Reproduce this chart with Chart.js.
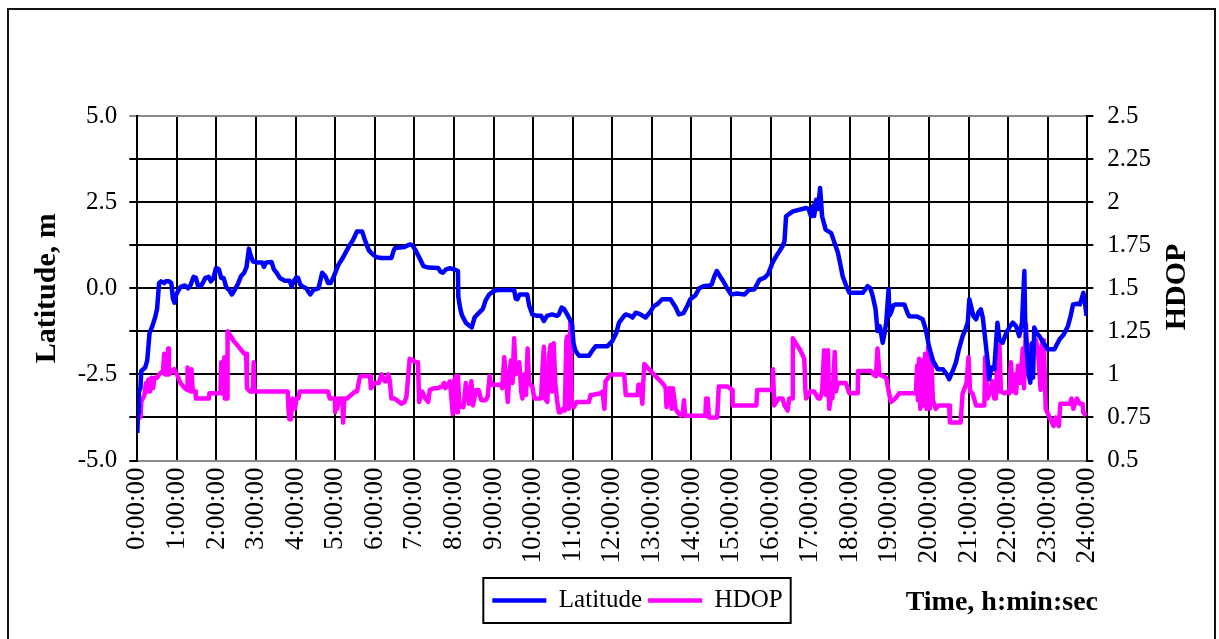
<!DOCTYPE html>
<html>
<head>
<meta charset="utf-8">
<script src="https://cdn.jsdelivr.net/npm/chart.js@4.4.1/dist/chart.umd.min.js"></script>
<style>
html,body{margin:0;padding:0;background:#fff;}
canvas{display:block;}
</style>
</head>
<body>
<canvas id="c" width="1219" height="639"></canvas>
<script>
// ---- data (time in hours) ----
const latTime = [0.00,0.02,0.04,0.08,0.10,0.20,0.25,0.28,0.31,0.38,0.45,0.50,0.55,0.60,0.68,0.72,0.80,0.86,0.90,0.94,0.98,1.03,1.10,1.20,1.28,1.35,1.42,1.48,1.54,1.62,1.72,1.80,1.86,1.92,1.99,2.06,2.12,2.18,2.25,2.32,2.39,2.46,2.54,2.62,2.70,2.76,2.82,2.85,2.92,3.00,3.15,3.20,3.25,3.39,3.45,3.52,3.60,3.73,3.85,3.90,3.95,4.02,4.06,4.12,4.19,4.27,4.32,4.37,4.45,4.58,4.62,4.67,4.75,4.82,4.88,4.95,5.08,5.20,5.34,5.45,5.55,5.68,5.75,5.85,5.95,6.05,6.17,6.42,6.48,6.51,6.75,6.88,6.95,7.03,7.12,7.23,7.35,7.60,7.66,7.72,7.80,7.90,8.00,8.10,8.11,8.16,8.20,8.30,8.40,8.45,8.52,8.60,8.73,8.80,8.89,9.00,9.10,9.52,9.56,9.60,9.66,9.85,9.90,9.98,10.10,10.20,10.27,10.35,10.48,10.60,10.65,10.72,10.78,10.86,10.95,10.98,11.02,11.07,11.16,11.41,11.50,11.58,11.88,12.00,12.10,12.17,12.30,12.34,12.45,12.51,12.59,12.70,12.84,12.95,13.05,13.15,13.26,13.47,13.60,13.68,13.80,13.90,13.97,14.10,14.20,14.30,14.45,14.51,14.58,14.64,14.72,14.80,14.90,15.00,15.15,15.34,15.45,15.59,15.72,15.84,15.93,16.00,16.05,16.15,16.22,16.30,16.35,16.39,16.56,16.90,16.96,17.02,17.08,17.10,17.15,17.20,17.25,17.30,17.39,17.53,17.62,17.70,17.76,17.82,17.90,17.99,18.33,18.45,18.52,18.58,18.65,18.70,18.76,18.83,18.88,18.92,18.98,19.00,19.04,19.10,19.17,19.38,19.45,19.50,19.70,19.84,19.92,20.00,20.10,20.22,20.35,20.45,20.51,20.60,20.68,20.75,20.85,20.92,20.98,21.02,21.08,21.12,21.19,21.25,21.31,21.36,21.44,21.50,21.52,21.58,21.65,21.70,21.73,21.78,21.86,21.95,22.05,22.12,22.20,22.28,22.35,22.41,22.43,22.47,22.52,22.56,22.60,22.63,22.66,22.72,22.79,22.90,23.00,23.17,23.30,23.40,23.51,23.58,23.64,23.75,23.81,23.86,23.90,23.95,23.98];
const latValue = [-4.2,-3.6,-3.0,-2.9,-2.4,-2.3,-2.1,-1.7,-1.3,-1.1,-0.85,-0.6,0.15,0.2,0.15,0.2,0.2,0.15,-0.3,-0.42,-0.2,-0.08,0.04,0.08,0.0,0.1,0.33,0.3,0.05,0.08,0.3,0.33,0.2,0.28,0.59,0.55,0.3,0.3,0.02,-0.05,-0.18,-0.05,0.12,0.35,0.45,0.62,1.15,1.0,0.78,0.75,0.75,0.62,0.75,0.76,0.55,0.45,0.3,0.22,0.22,0.05,0.2,0.32,0.3,0.1,0.04,0.0,-0.1,-0.18,-0.05,0.0,0.2,0.45,0.35,0.15,0.15,0.3,0.68,0.9,1.2,1.4,1.65,1.65,1.4,1.1,0.98,0.9,0.88,0.88,1.1,1.17,1.2,1.27,1.25,1.1,0.9,0.64,0.6,0.59,0.48,0.45,0.55,0.58,0.55,0.5,-0.25,-0.6,-0.78,-1.0,-1.1,-1.14,-0.85,-0.75,-0.6,-0.35,-0.18,-0.08,-0.05,-0.05,-0.3,-0.32,-0.18,-0.18,-0.5,-0.76,-0.8,-0.8,-0.95,-0.8,-0.76,-0.8,-0.76,-0.56,-0.6,-0.76,-0.95,-1.0,-1.6,-1.82,-1.96,-1.96,-1.8,-1.68,-1.68,-1.53,-1.3,-1.0,-0.8,-0.76,-0.8,-0.85,-0.71,-0.75,-0.85,-0.7,-0.52,-0.45,-0.32,-0.32,-0.55,-0.76,-0.72,-0.5,-0.32,-0.2,0.0,0.06,0.08,0.11,0.35,0.5,0.35,0.21,0.0,-0.18,-0.15,-0.18,-0.05,-0.03,0.25,0.3,0.4,0.6,0.75,0.95,1.07,1.22,1.36,2.09,2.23,2.33,2.3,2.09,2.4,2.1,2.57,2.3,2.91,2.09,1.7,1.6,1.3,1.03,0.7,0.35,0.1,-0.13,-0.13,0.06,0.0,-0.23,-0.6,-1.24,-1.1,-1.58,-1.3,-1.0,-0.03,-0.8,-0.71,-0.5,-0.47,-0.47,-0.7,-0.81,-0.82,-0.9,-1.2,-1.68,-2.1,-2.35,-2.35,-2.5,-2.64,-2.4,-2.16,-1.8,-1.39,-1.2,-1.0,-0.32,-0.6,-0.8,-0.9,-0.7,-0.61,-0.85,-1.68,-2.3,-2.64,-2.3,-2.35,-1.5,-1.0,-1.5,-1.58,-1.3,-1.1,-1.0,-1.1,-1.39,-1.0,0.5,-0.9,-1.8,-2.5,-2.74,-1.6,-2.6,-1.14,-1.3,-1.39,-1.6,-1.77,-1.77,-1.48,-1.35,-1.1,-0.8,-0.47,-0.45,-0.47,-0.3,-0.13,-0.5,-0.8];

const hdopTime = [0.00,0.08,0.10,0.18,0.22,0.25,0.28,0.32,0.36,0.40,0.43,0.50,0.55,0.65,0.68,0.70,0.76,0.78,0.80,0.93,1.00,1.09,1.20,1.26,1.27,1.29,1.36,1.37,1.40,1.47,1.48,1.81,1.82,2.10,2.12,2.14,2.19,2.20,2.21,2.27,2.28,2.45,2.56,2.70,2.75,2.77,2.85,2.92,2.94,2.96,3.80,3.82,3.84,3.86,3.88,3.92,3.98,4.02,4.07,4.10,4.82,4.86,4.99,5.00,5.02,5.05,5.10,5.18,5.20,5.23,5.30,5.40,5.50,5.55,5.60,5.63,5.88,5.90,6.00,6.10,6.17,6.25,6.30,6.34,6.38,6.42,6.50,6.67,6.75,6.80,6.88,7.05,7.09,7.12,7.20,7.28,7.35,7.39,7.50,7.60,7.70,7.75,7.78,7.90,7.97,8.00,8.05,8.08,8.10,8.14,8.20,8.24,8.30,8.38,8.44,8.48,8.56,8.62,8.69,8.80,8.85,8.90,8.94,9.19,9.22,9.27,9.36,9.40,9.44,9.48,9.52,9.56,9.60,9.65,9.70,9.73,9.78,9.82,9.86,9.90,9.98,10.03,10.06,10.15,10.20,10.24,10.27,10.30,10.36,10.40,10.44,10.48,10.52,10.56,10.61,10.65,10.69,10.75,10.80,10.84,10.86,10.90,10.94,10.98,11.03,11.10,11.20,11.41,11.45,11.49,11.70,11.75,11.80,11.83,11.96,12.30,12.34,12.64,12.66,12.70,12.76,12.78,12.81,12.93,13.05,13.18,13.30,13.35,13.37,13.40,13.45,13.50,13.53,13.60,13.65,13.73,13.78,13.81,13.84,13.89,14.35,14.37,14.41,14.44,14.65,14.69,14.90,15.03,15.04,15.64,15.66,16.04,16.06,16.09,16.20,16.30,16.35,16.43,16.47,16.54,16.56,16.64,16.75,16.85,16.88,16.90,17.00,17.10,17.20,17.25,17.30,17.35,17.40,17.45,17.48,17.52,17.56,17.62,17.65,17.70,17.90,17.99,18.20,18.21,18.53,18.60,18.66,18.70,18.75,18.83,18.92,19.00,19.04,19.15,19.25,19.67,19.70,19.72,19.75,19.78,19.82,19.86,19.90,19.94,19.98,20.02,20.06,20.10,20.17,20.25,20.51,20.53,20.80,20.85,20.95,21.00,21.04,21.10,21.19,21.40,21.42,21.48,21.55,21.60,21.65,21.69,21.72,21.75,21.78,21.82,21.90,22.00,22.03,22.07,22.12,22.15,22.20,22.25,22.30,22.37,22.40,22.45,22.50,22.53,22.60,22.70,22.75,22.82,22.86,22.90,22.95,23.05,23.15,23.20,23.28,23.32,23.57,23.60,23.65,23.70,23.74,23.80,23.88,23.90,23.97];
const hdopValue = [0.75,0.75,0.84,0.88,0.95,0.9,0.97,0.9,0.98,0.92,0.98,0.98,1.0,1.02,1.12,1.0,1.0,1.15,1.0,1.03,1.0,0.95,0.92,0.91,1.04,0.91,0.9,1.03,0.9,0.9,0.86,0.86,0.89,0.89,1.07,0.89,0.9,1.1,0.86,0.86,1.25,1.19,1.16,1.12,1.12,0.92,0.9,0.9,1.07,0.9,0.9,0.8,0.74,0.82,0.74,0.86,0.8,0.86,0.86,0.9,0.9,0.86,0.86,0.78,0.86,0.8,0.86,0.86,0.72,0.86,0.86,0.88,0.9,0.9,0.96,0.99,0.99,0.92,0.95,0.95,1.0,0.96,0.96,1.0,0.96,0.86,0.86,0.83,0.84,0.87,1.09,1.07,1.07,0.84,0.9,0.86,0.84,0.91,0.92,0.92,0.93,0.95,0.92,0.96,0.77,0.96,0.99,0.78,0.99,0.81,0.82,0.81,0.95,0.83,0.96,0.82,0.91,0.91,0.85,0.85,0.87,0.99,0.94,0.94,0.92,1.1,0.84,1.0,1.08,0.95,1.21,1.0,1.05,1.07,0.9,0.86,1.0,0.88,1.15,0.95,0.93,0.86,0.86,0.86,0.86,1.05,1.16,0.86,0.84,1.1,1.17,0.9,1.18,0.95,0.84,0.78,0.78,0.8,0.79,1.2,1.22,0.8,1.31,0.82,0.81,0.84,0.84,0.84,0.88,0.88,0.89,0.9,0.8,0.96,1.0,1.0,0.88,0.88,0.94,0.94,0.83,0.94,1.06,1.03,1.0,0.97,0.94,0.92,0.81,0.9,0.92,0.8,0.92,0.8,0.78,0.76,0.78,0.85,0.76,0.76,0.76,0.86,0.86,0.75,0.75,0.93,0.93,0.91,0.82,0.82,0.91,0.91,1.03,0.82,0.86,0.86,0.82,0.79,0.86,0.86,1.21,1.18,1.14,1.09,0.9,0.86,0.9,0.9,0.86,0.86,0.9,1.14,0.88,1.14,0.8,0.86,0.86,1.13,0.9,0.95,0.95,0.89,0.89,1.02,1.02,1.0,0.99,1.15,1.0,0.99,0.98,0.88,0.84,0.86,0.89,0.89,1.05,0.85,1.09,0.8,1.08,0.82,1.12,0.8,1.16,0.8,1.1,0.85,0.8,0.82,0.82,0.72,0.72,0.89,0.95,1.1,0.9,0.89,0.82,0.82,1.1,0.86,0.9,0.96,0.86,0.86,1.05,0.9,1.17,0.9,0.89,0.9,0.89,1.07,0.9,1.0,0.89,1.05,0.95,1.15,0.92,1.29,1.0,1.17,1.1,1.2,1.15,0.91,1.2,1.2,0.8,0.75,0.7,0.75,0.7,0.83,0.83,0.86,0.8,0.84,0.86,0.83,0.83,0.78,0.76];

const xTickLabels = ['0:00:00','1:00:00','2:00:00','3:00:00','4:00:00','5:00:00','6:00:00','7:00:00','8:00:00','9:00:00','10:00:00','11:00:00','12:00:00','13:00:00','14:00:00','15:00:00','16:00:00','17:00:00','18:00:00','19:00:00','20:00:00','21:00:00','22:00:00','23:00:00','24:00:00'];
const latTickLabels = ['-5.0','','-2.5','','0.0','','2.5','','5.0'];
const hdopTickLabels = ['0.5','0.75','1','1.25','1.5','1.75','2','2.25','2.5'];

const latLabel = 'Latitude';
const hdopLabel = 'HDOP';
const yTitle = 'Latitude, m';
const y1Title = 'HDOP';
const xTitle = 'Time, h:min:sec';

const SERIF = "'Liberation Serif', 'Times New Roman', serif";
Chart.defaults.font.family = SERIF;
Chart.defaults.color = '#000';

const decor = {
  id: 'decor',
  afterLayout(chart) {
    const lg = chart.legend;
    if (lg) { lg.left += 28; lg.right += 28; }
  },
  afterDraw(chart) {
    const ctx = chart.ctx;
    ctx.save();
    // legend frame
    const hb = chart.legend.legendHitBoxes;
    if (hb && hb.length) {
      const l = hb[0].left - 9;
      const last = hb[hb.length - 1];
      const r = last.left + last.width + 8;
      const t = hb[0].top - 10;
      ctx.strokeStyle = '#000';
      ctx.lineWidth = 2;
      ctx.strokeRect(l, t, r - l, 45);
    }
    // x-axis title
    ctx.fillStyle = '#000';
    ctx.font = "bold 28px " + SERIF;
    ctx.textAlign = 'right';
    ctx.textBaseline = 'middle';
    ctx.fillText(xTitle, 1098, 603);
    // right axis title (reads bottom to top)
    ctx.translate(1177, 287);
    ctx.rotate(-Math.PI / 2);
    ctx.font = "bold 30px " + SERIF;
    ctx.textAlign = 'center';
    ctx.fillText(y1Title, 0, 0);
    ctx.restore();
    // outer frame
    ctx.save();
    ctx.strokeStyle = '#111';
    ctx.lineWidth = 2;
    ctx.strokeRect(8, 9, 1207, 700);
    ctx.restore();
  }
};

new Chart(document.getElementById('c'), {
  type: 'line',
  data: {
    datasets: [
      { label: latLabel, data: latTime.map((t, i) => ({x: t, y: latValue[i]})), yAxisID: 'y',
        borderColor: '#0000FF', backgroundColor: '#0000FF', borderWidth: 4.5, pointRadius: 0,
        tension: 0, borderJoinStyle: 'round', fill: false },
      { label: hdopLabel, data: hdopTime.map((t, i) => ({x: t, y: hdopValue[i]})), yAxisID: 'y1',
        borderColor: '#FF00FF', backgroundColor: '#FF00FF', borderWidth: 4.5, pointRadius: 0,
        tension: 0, borderJoinStyle: 'round', fill: false }
    ]
  },
  options: {
    responsive: false,
    animation: false,
    layout: { padding: { top: 116, left: 0, right: 0, bottom: 16 } },
    plugins: {
      legend: {
        position: 'bottom',
        labels: { usePointStyle: true, pointStyle: 'line', pointStyleWidth: 54, padding: 6,
                  font: { size: 25 }, color: '#000' }
      },
      tooltip: { enabled: false }
    },
    scales: {
      x: {
        type: 'linear', min: 0, max: 24,
        ticks: { stepSize: 1, autoSkip: false, maxRotation: 90, minRotation: 90, padding: 7,
                 font: { size: 27 }, color: '#000', callback: (v, i) => xTickLabels[i] },
        grid: { color: '#000', lineWidth: 2, drawTicks: false },
        border: { color: '#8a8a8a', width: 2 },
        afterFit: s => { s.height = 121.5; }
      },
      y: {
        position: 'left', min: -5, max: 5,
        ticks: { stepSize: 1.25, padding: 12, font: { size: 25 }, color: '#000',
                 callback: (v, i) => latTickLabels[i] },
        grid: { color: c => (c.tick && c.tick.value === 5) ? '#8a8a8a' : '#000', lineWidth: 2, tickLength: 8 },
        border: { color: '#000', width: 2 },
        title: { display: true, text: yTitle, color: '#000', font: { size: 30, weight: 'bold' },
                 padding: { top: 29, bottom: 0 } },
        afterFit: s => { s.width = 137.3; }
      },
      y1: {
        position: 'right', min: 0.5, max: 2.5,
        ticks: { stepSize: 0.25, padding: 14, font: { size: 25 }, color: '#000',
                 callback: (v, i) => hdopTickLabels[i] },
        grid: { drawOnChartArea: false, color: '#000', lineWidth: 2, tickLength: 6 },
        border: { color: '#000', width: 2 },
        afterFit: s => { s.width = 131.7; }
      }
    }
  },
  plugins: [decor]
});
</script>
</body>
</html>
